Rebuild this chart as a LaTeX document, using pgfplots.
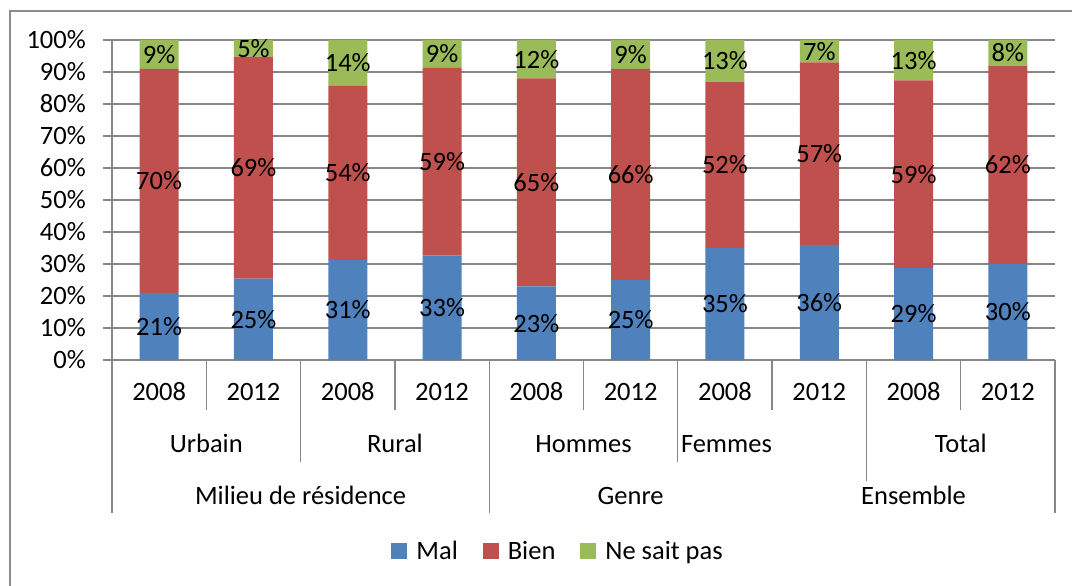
\documentclass[border=0pt]{standalone}
\usepackage{fontspec}
\setmainfont{Carlito}
\usepackage{pgfplots}
\usepackage{pgfplotstable}
\pgfplotsset{compat=1.18}
\definecolor{cMal}{HTML}{4F81BD}
\definecolor{cBien}{HTML}{C0504D}
\definecolor{cNsp}{HTML}{9BBB59}
\definecolor{gridc}{HTML}{878787}
\definecolor{framec}{HTML}{8C8C8C}

\pgfplotstableread{
x mal bien nsp lm lb ln
0 21.0 70.0 9.0 21 70 9
1 25.4 69.4 5.2 25 69 5
2 31.3 54.4 14.3 31 54 14
3 32.7 58.6 8.7 33 59 9
4 23.0 65.0 12.0 23 65 12
5 25.0 66.0 9.0 25 66 9
6 35.0 52.0 13.0 35 52 13
7 36.0 57.0 7.0 36 57 7
8 28.8 58.6 12.6 29 59 13
9 30.0 62.0 8.0 30 62 8
}\data

\begin{document}
\begin{tikzpicture}[font=\fontsize{26.5bp}{31bp}\selectfont]
\useasboundingbox (-112bp,-226bp) rectangle (960bp,360bp);
\draw[framec, line width=1.3bp] (-102bp,-260bp) -- (-102bp,349bp) -- (990bp,349bp);
\begin{axis}[
  at={(0bp,0bp)}, anchor=south west,
  scale only axis, width=943bp, height=320bp,
  ybar stacked, bar width=39bp,
  xmin=-0.5, xmax=9.5, ymin=0, ymax=100,
  xtick=data,
  xticklabels={2008,2012,2008,2012,2008,2012,2008,2012,2008,2012},
  ytick={0,10,...,100},
  yticklabels={0\%,10\%,20\%,30\%,40\%,50\%,60\%,70\%,80\%,90\%,100\%},
  axis x line*=bottom, axis y line*=left,
  axis line style={gridc, line width=1.5bp},
  ymajorgrids, grid style={gridc, line width=1.5bp},
  tick align=outside, major tick length=9bp,
  ytick style={gridc, line width=1.5bp},
  xtick style={draw=none},
  tick label style={font=\fontsize{26.5bp}{31bp}\selectfont, text=black},
  yticklabel style={anchor=east, inner sep=0pt, xshift=-17bp},
  xticklabel style={anchor=base, inner sep=0pt, yshift=-31bp},
  clip=false,
  point meta=explicit symbolic,
  nodes near coords={\pgfplotspointmeta\%},
  every node near coord/.append style={anchor=center, inner sep=0pt, font=\fontsize{26.5bp}{31bp}\selectfont, text=black},
  legend style={at={(0.473,-0.597)}, anchor=center, draw=none, fill=none,
    legend columns=3, font=\fontsize{26.5bp}{31bp}\selectfont,
    /tikz/every odd column/.append style={column sep=7bp},
    /tikz/every even column/.append style={column sep=23bp},
    cells={inner sep=0bp}},
  legend image code/.code={\fill[#1] (0bp,-8bp) rectangle (16bp,8bp);},
]
\addplot[fill=cMal, draw=none] table[x=x, y=mal, meta=lm]{\data};
\addplot[fill=cBien, draw=none] table[x=x, y=bien, meta=lb]{\data};
\addplot[fill=cNsp, draw=none] table[x=x, y=nsp, meta=ln]{\data};
\legend{Mal,Bien,Ne sait pas}

\draw[gridc, line width=1.3bp] (axis cs:-0.5,0) -- ++(0bp,-153bp);
\draw[gridc, line width=1.3bp] (axis cs:3.5,0) -- ++(0bp,-153bp);
\draw[gridc, line width=1.3bp] (axis cs:9.5,0) -- ++(0bp,-153bp);
\draw[gridc, line width=1.3bp] (axis cs:1.5,0) -- ++(0bp,-102bp);
\draw[gridc, line width=1.3bp] (axis cs:5.5,0) -- ++(0bp,-102bp);
\draw[gridc, line width=1.3bp] (axis cs:7.5,0) -- ++(0bp,-121bp);
\draw[gridc, line width=1.3bp] (axis cs:0.5,0) -- ++(0bp,-50bp);
\draw[gridc, line width=1.3bp] (axis cs:2.5,0) -- ++(0bp,-50bp);
\draw[gridc, line width=1.3bp] (axis cs:4.5,0) -- ++(0bp,-50bp);
\draw[gridc, line width=1.3bp] (axis cs:6.5,0) -- ++(0bp,-50bp);
\draw[gridc, line width=1.3bp] (axis cs:8.5,0) -- ++(0bp,-50bp);

\node[anchor=base, inner sep=0pt] at ([yshift=-92bp]axis cs:0.5,0) {Urbain};
\node[anchor=base, inner sep=0pt] at ([yshift=-92bp]axis cs:2.5,0) {Rural};
\node[anchor=base, inner sep=0pt] at ([yshift=-92bp]axis cs:4.5,0) {Hommes};
\node[anchor=base west, inner sep=0pt] at ([xshift=3bp,yshift=-92bp]axis cs:5.5,0) {Femmes};
\node[anchor=base, inner sep=0pt] at ([yshift=-92bp]axis cs:8.5,0) {Total};
\node[anchor=base, inner sep=0pt] at ([yshift=-144bp]axis cs:1.5,0) {Milieu de résidence};
\node[anchor=base, inner sep=0pt] at ([yshift=-144bp]axis cs:5.0,0) {Genre};
\node[anchor=base, inner sep=0pt] at ([yshift=-144bp]axis cs:8.0,0) {Ensemble};
\end{axis}
\end{tikzpicture}
\end{document}
